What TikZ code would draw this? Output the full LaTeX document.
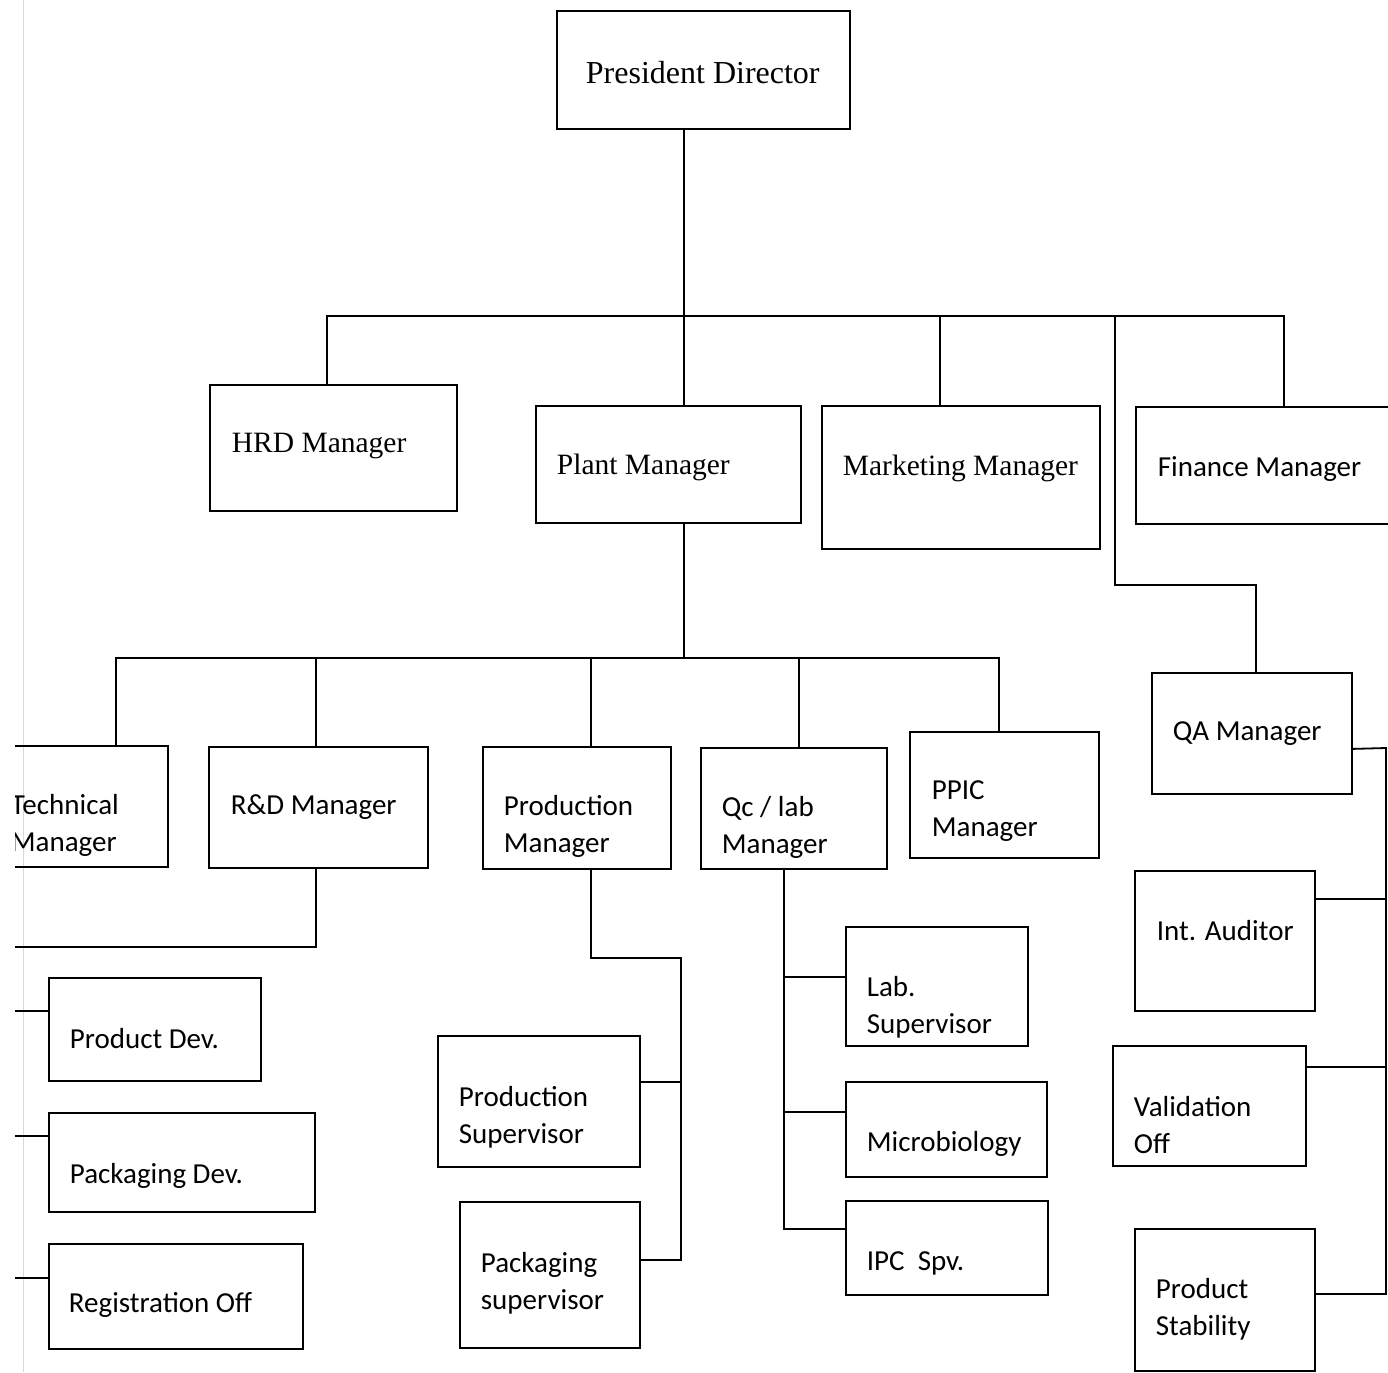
\documentclass[tikz,border=0pt]{standalone}
\usepackage{fontspec}
\setmainfont{Liberation Serif}
\newfontfamily\calfont{Carlito}
\usepackage{tikz}
\usetikzlibrary{positioning}

\begin{document}
\begin{tikzpicture}[x=0.5pt,y=-0.5pt,line width=0.9pt,
    box/.style={draw,anchor=north west,inner sep=0pt},
    role/.style={anchor=west,inner sep=0pt,align=left,font=\calfont\fontsize{14.5}{18.5}\selectfont},
    head/.style={role,font=\fontsize{14.75}{18.5}\selectfont}]
  \useasboundingbox (0,0) rectangle (1388,1372);
  \draw[gray!30,line width=0.5pt] (23,0) -- (23,1372);
  \begin{scope}
    \clip (15,0) rectangle (1388,1372);

    % top level
    \node[box,minimum width=146.5pt,minimum height=59pt] (pres) at (556,10) {};
    \node[head,font=\fontsize{16}{18.5}\selectfont] (pres-t) at (585,73) {President Director};
    \node[box,minimum width=123.5pt,minimum height=63pt] (hrd) at (209,384) {};
    \node[head] (hrd-t) at (231,446) {HRD Manager};
    \node[box,minimum width=132.5pt,minimum height=58.5pt] (plant) at (535,405) {};
    \node[head] (plant-t) at (556,467) {Plant Manager};
    \node[box,minimum width=139pt,minimum height=71.5pt] (mkt) at (821,405) {};
    \node[head] (mkt-t) at (842,468) {Marketing Manager};
    \node[box,minimum width=148pt,minimum height=58.5pt] (fin) at (1135,406) {};
    \node[role] (fin-t) at (1157,469) {Finance Manager};
    \node[box,minimum width=100pt,minimum height=60.5pt] (qa) at (1151,672) {};
    \node[role] (qa-t) at (1172,734) {QA Manager};

    % plant
    \node[box,minimum width=113.5pt,minimum height=60.5pt] (tech) at (-60,745) {};
    \node[role] (tech-t) at (10,825) {Technical\\Manager};
    \node[box,minimum width=109.5pt,minimum height=60.5pt] (rd) at (208,746) {};
    \node[role] (rd-t) at (230,807) {R\&D Manager};
    \node[box,minimum width=94pt,minimum height=61pt] (prod) at (482,746) {};
    \node[role] (prod-t) at (503,826) {Production\\Manager};
    \node[box,minimum width=93pt,minimum height=60.5pt] (qc) at (700,747) {};
    \node[role] (qc-t) at (721,827) {Qc / lab\\Manager};
    \node[box,minimum width=94.5pt,minimum height=63pt] (ppic) at (909,731) {};
    \node[role] (ppic-t) at (931,811) {PPIC\\Manager};

    % R&D
    \node[box,minimum width=106pt,minimum height=51.5pt] (pdev) at (48,977) {};
    \node[role] (pdev-t) at (69,1039) {Product Dev.};
    \node[box,minimum width=133pt,minimum height=49.5pt] (pkdev) at (48,1112) {};
    \node[role] (pkdev-t) at (69,1176) {Packaging Dev.};
    \node[box,minimum width=127pt,minimum height=52.5pt] (reg) at (48,1243) {};
    \node[role] (reg-t) at (68,1305) {Registration Off};

    % production
    \node[box,minimum width=101pt,minimum height=65.5pt] (psup) at (437,1035) {};
    \node[role] (psup-t) at (458,1117) {Production\\Supervisor};
    \node[box,minimum width=90pt,minimum height=73pt] (pksup) at (459,1201) {};
    \node[role] (pksup-t) at (480,1283) {Packaging\\supervisor};

    % qc / lab
    \node[box,minimum width=91pt,minimum height=59.5pt] (lab) at (845,926) {};
    \node[role] (lab-t) at (866,1007) {Lab.\\Supervisor};
    \node[box,minimum width=100.5pt,minimum height=47.5pt] (micro) at (845,1081) {};
    \node[role] (micro-t) at (866,1144) {Microbiology};
    \node[box,minimum width=101pt,minimum height=47pt] (ipc) at (845,1200) {};
    \node[role] (ipc-t) at (866,1263) {IPC\ \ Spv.};

    % QA
    \node[box,minimum width=90pt,minimum height=70pt] (aud) at (1134,870) {};
    \node[role] (aud-t) at (1156,931) {Int. Auditor};
    \node[box,minimum width=96.5pt,minimum height=60pt] (val) at (1112,1045) {};
    \node[role] (val-t) at (1133,1125) {Validation\\Off};
    \node[box,minimum width=90pt,minimum height=71pt] (stab) at (1134,1228) {};
    \node[role] (stab-t) at (1155,1309) {Product\\Stability};

    \coordinate (b0) at (684,316);
    \coordinate (b1) at (684,658);
    \coordinate (qa-j) at (1115,585);
    \coordinate (rd-j) at (0,947);
    \coordinate (pm-j) at (681,958);
    \coordinate (qc-j) at ([xshift=-5pt]qc.south);
    \coordinate (qa-r) at (1386,748);

    \draw (b0 |- pres.south) -- (b0 |- plant.north);
    \draw ([xshift=-3.25pt]hrd.north) |- (b0) -| (fin.north);
    \draw ([xshift=-10.5pt]mkt.north) -- ([xshift=-10.5pt]mkt.north |- b0);
    \draw (qa-j |- b0) -- (qa-j) -| ([xshift=2pt]qa.north);

    \draw (b1 |- plant.south) -- (b1);
    \draw ([xshift=30.75pt]tech.north) |- (b1) -| ([xshift=-2.75pt]ppic.north);
    \draw ([xshift=-1.25pt]rd.north) -- ([xshift=-1.25pt]rd.north |- b1);
    \draw ([xshift=7pt]prod.north) -- ([xshift=7pt]prod.north |- b1);
    \draw ([xshift=2.5pt]qc.north) -- ([xshift=2.5pt]qc.north |- b1);

    \draw ([xshift=-1.25pt]rd.south) |- (rd-j) |- ([yshift=9.25pt]reg.west);
    \draw ([yshift=9.25pt]pdev.west) -- ([yshift=9.25pt]pdev.west -| rd-j);
    \draw ([yshift=13.25pt]pkdev.west) -- ([yshift=13.25pt]pkdev.west -| rd-j);

    \draw ([xshift=7pt]prod.south) |- (pm-j) |- ([yshift=7.5pt]pksup.east);
    \draw ([yshift=9.75pt]psup.east) -- ([yshift=9.75pt]psup.east -| pm-j);

    \draw (qc-j) |- ([yshift=9.5pt]ipc.west);
    \draw ([yshift=4.75pt]lab.west) -- ([yshift=4.75pt]lab.west -| qc-j);
    \draw ([yshift=8.75pt]micro.west) -- ([yshift=8.75pt]micro.west -| qc-j);

    \draw ([yshift=-7.75pt]qa.east) -- (qa-r) |- ([yshift=3pt]stab.east);
    \draw ([yshift=21pt]aud.east) -- ([yshift=21pt]aud.east -| qa-r);
    \draw ([yshift=19.5pt]val.east) -- ([yshift=19.5pt]val.east -| qa-r);
  \end{scope}
\end{tikzpicture}
\end{document}
